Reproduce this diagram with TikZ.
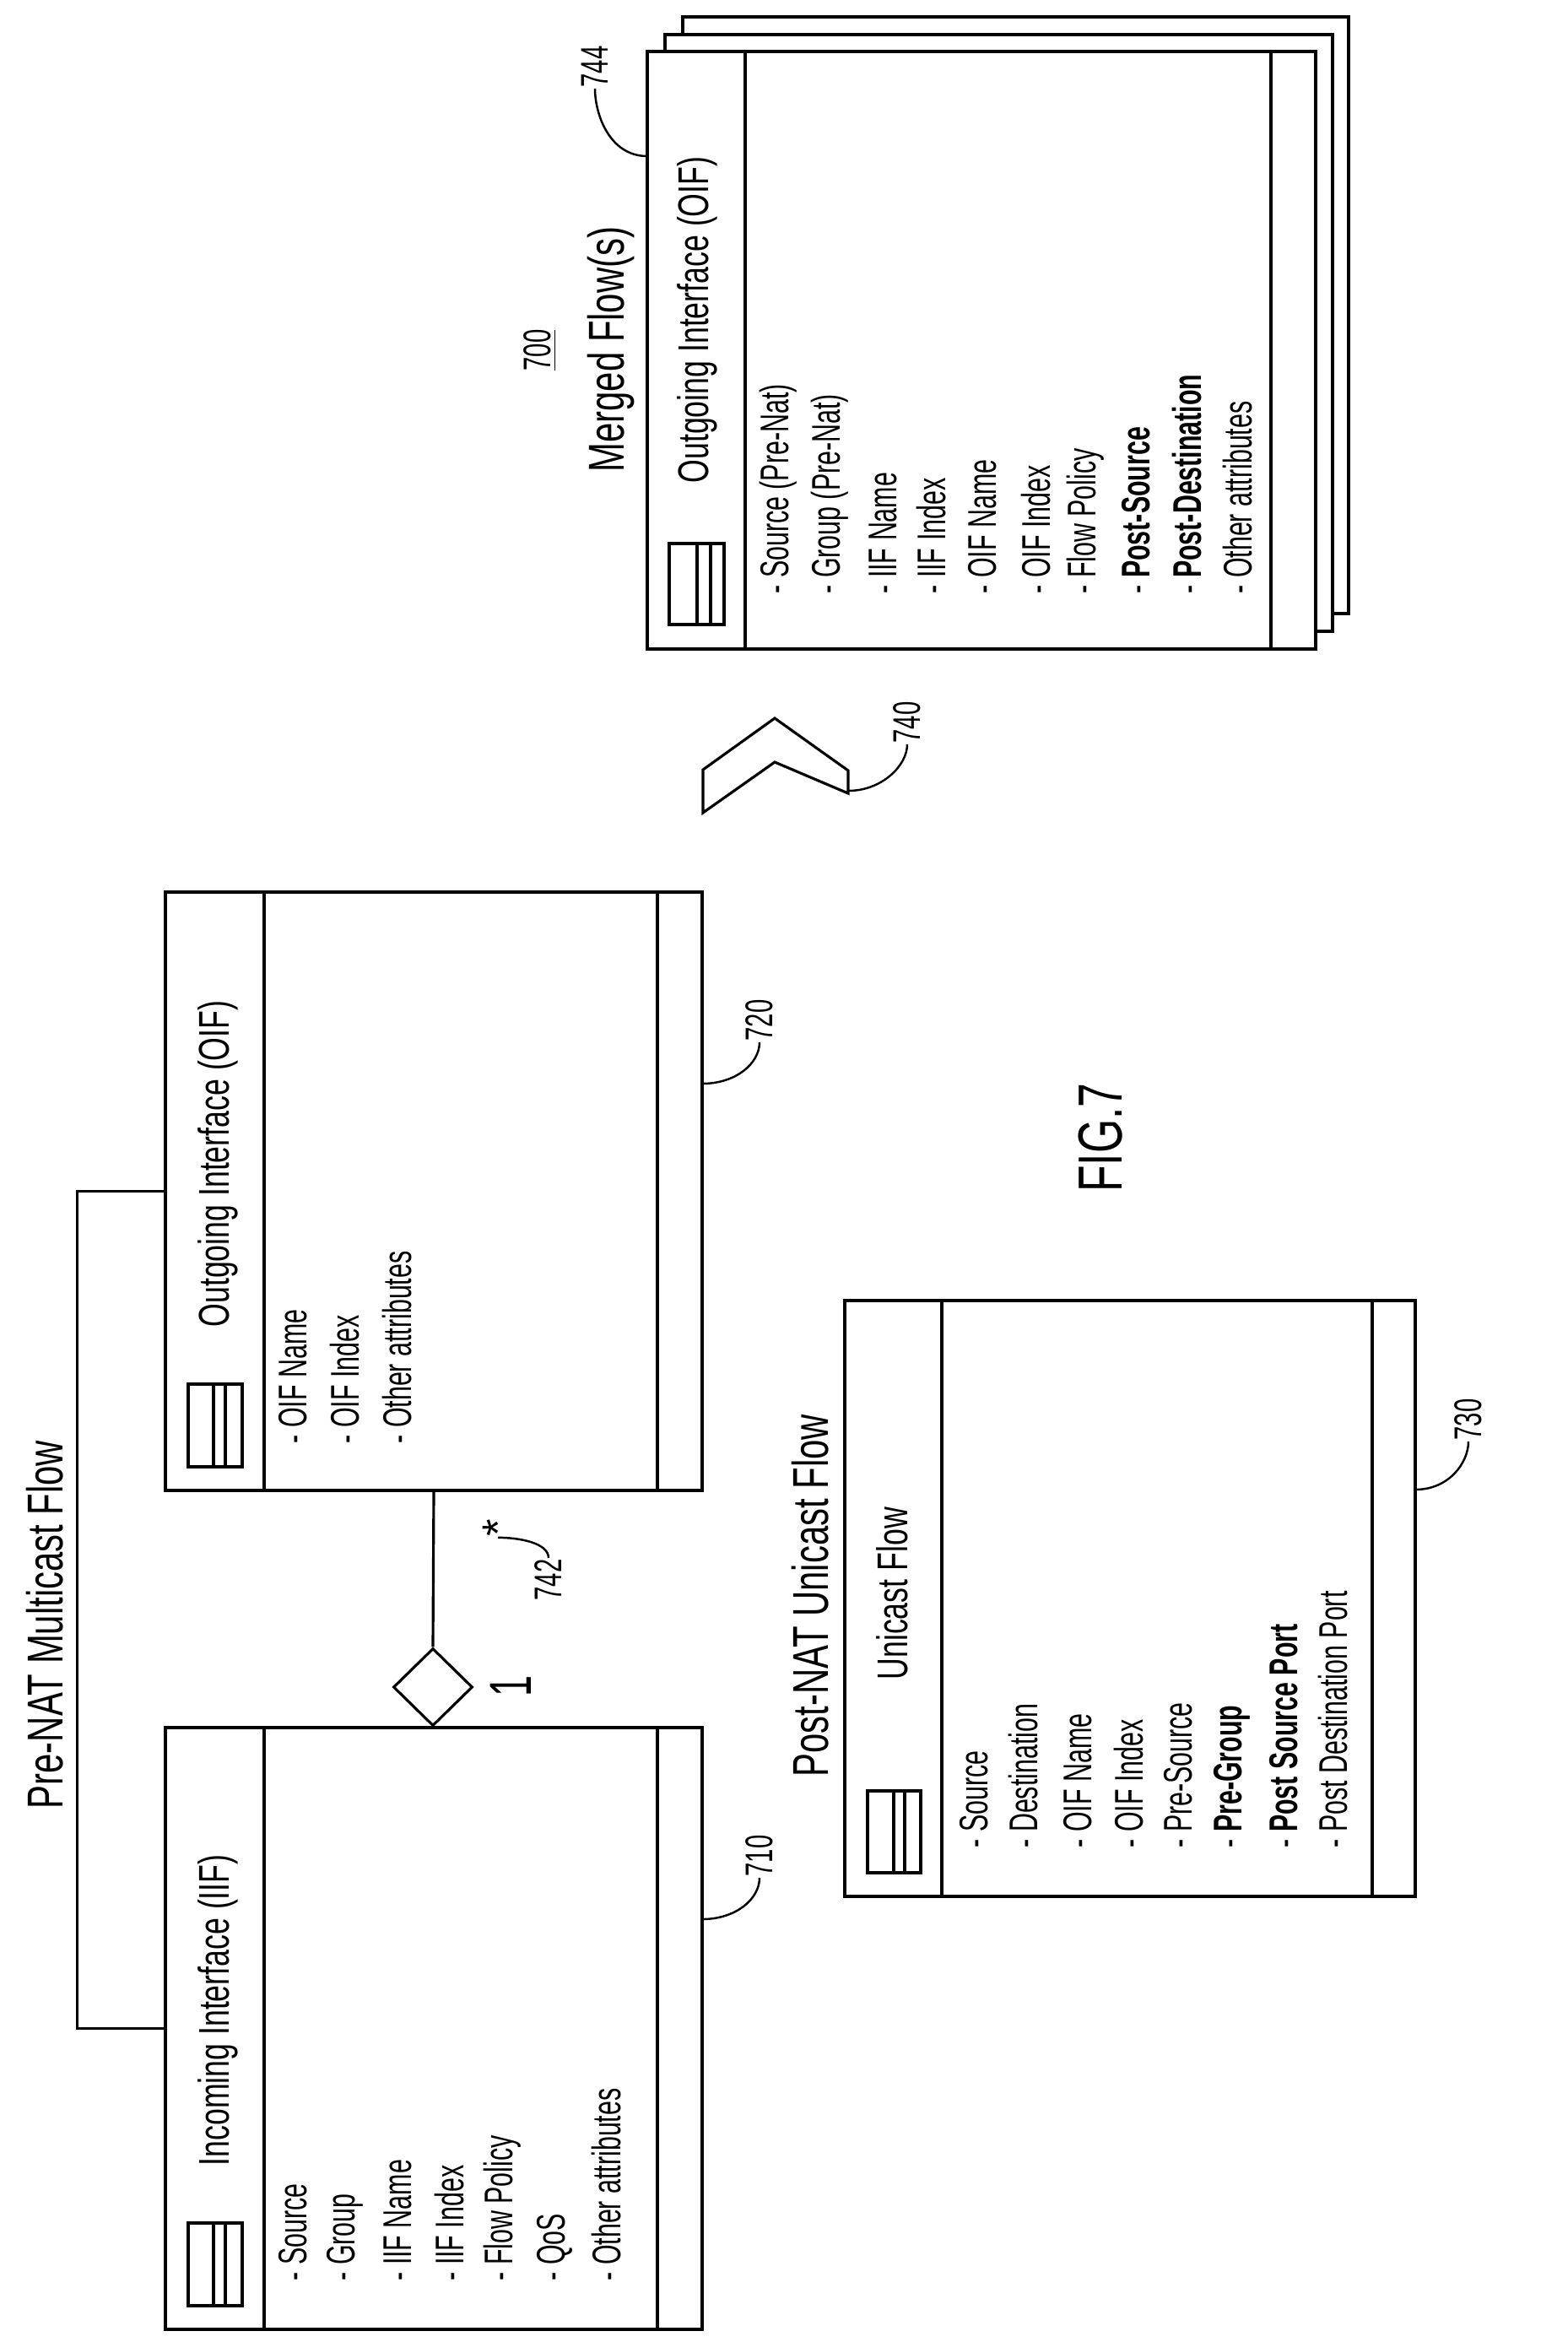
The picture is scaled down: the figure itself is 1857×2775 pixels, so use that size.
\documentclass[tikz,border=0pt]{standalone}
\usepackage{fontspec}
\setmainfont{Liberation Sans}
\usetikzlibrary{fit,shapes.geometric}
\newcommand\nr[1]{\scalebox{0.64}[1]{#1}}
\newcommand\nt[1]{\scalebox{0.70}[1]{#1}}
\begin{document}
\begin{tikzpicture}[x=0.01cm,y=-0.01cm,line width=0.9pt,
  box/.style={draw,inner sep=0pt,fill=white},
  item/.style={rotate=90,anchor=west,inner sep=0pt,font=\fontsize{13.5}{15}\selectfont},
  ttl/.style={rotate=90,anchor=west,inner sep=0pt,font=\fontsize{14.5}{16}\selectfont},
  grp/.style={rotate=90,inner sep=0pt,font=\fontsize{17}{19}\selectfont},
  lbl/.style={rotate=90,anchor=west,inner sep=0pt,font=\fontsize{13}{15}\selectfont}]
\useasboundingbox (0,0) rectangle (1857,2775);

% ---------- Box 720 ----------
\node[box,fit={(196,1057)(832,1766)}] (b720) {};
\draw (313,1057) -- (313,1766) (779,1057) -- (779,1766);
\draw (223,1640) rectangle (287,1738) (253,1640) -- (253,1738) (267,1640) -- (267,1738);
\node[ttl] (t720) at (258,1574) {\nt{Outgoing Interface (OIF)}};
\node[item] (i720a) at (347,1712) {\nr{- OIF Name}};
\node[item] (i720b) at (409,1712) {\nr{- OIF Index}};
\node[item] (i720c) at (471,1712) {\nr{- Other attributes}};

% ---------- Box 710 ----------
\node[box,fit={(196,2047)(832,2760)}] (b710) {};
\draw (313,2047) -- (313,2760) (779,2047) -- (779,2760);
\draw (223,2634) rectangle (287,2732) (253,2634) -- (253,2732) (267,2634) -- (267,2732);
\node[ttl] (t710) at (258,2568) {\nt{Incoming Interface (IIF)}};
\node[item] at (347,2704) {\nr{- Source}};
\node[item] at (409,2704) {\nr{- Group}};
\node[item] at (471,2704) {\nr{- IIF Name}};
\node[item] at (533,2704) {\nr{- IIF Index}};
\node[item] at (595,2704) {\nr{- Flow Policy}};
\node[item] at (657,2704) {\nr{- QoS}};
\node[item] at (719,2704) {\nr{- Other attributes}};

% ---------- Box 730 ----------
\node[box,fit={(1001,1541)(1677,2247)}] (b730) {};
\draw (1116,1541) -- (1116,2247) (1626,1541) -- (1626,2247);
\draw (1028,2122) rectangle (1091,2219) (1059,2122) -- (1059,2219) (1072,2122) -- (1072,2219);
\node[ttl] (t730) at (1057,1992) {\nt{Unicast Flow}};
\node[item] at (1154,2191) {\nr{- Source}};
\node[item] at (1213,2191) {\nr{- Destination}};
\node[item] at (1277,2191) {\nr{- OIF Name}};
\node[item] at (1338,2191) {\nr{- OIF Index}};
\node[item] at (1396,2191) {\nr{- Pre-Source}};
\node[item] at (1460,2191) {\nr{- \textbf{Pre-Group}}};
\node[item] at (1521,2191) {\nr{- \textbf{Post Source Port}}};
\node[item] at (1580,2191) {\nr{- Post Destination Port}};

% ---------- Box 744 (stack) ----------
\node[box,fit={(809,20)(1598,727)}] (b744c) {};
\node[box,fit={(788,41)(1579,748)}] (b744b) {};
\node[box,fit={(767,61)(1559,769)}] (b744) {};
\draw (883,61) -- (883,769) (1506,61) -- (1506,769);
\draw (793,644) rectangle (858,740) (826,644) -- (826,740) (842,644) -- (842,740);
\node[ttl] (t744) at (826,574) {\nt{Outgoing Interface (OIF)}};
\node[item] at (922,705) {\nr{- Source (Pre-Nat)}};
\node[item] at (983,705) {\nr{- Group (Pre-Nat)}};
\node[item] at (1046,705) {\nr{- IIF Name}};
\node[item] at (1104,705) {\nr{- IIF Index}};
\node[item] at (1164,705) {\nr{- OIF Name}};
\node[item] at (1228,705) {\nr{- OIF Index}};
\node[item] at (1286,705) {\nr{- Flow Policy}};
\node[item] at (1346,705) {\nr{- \textbf{Post-Source}}};
\node[item] at (1407,705) {\nr{- \textbf{Post-Destination}}};
\node[item] at (1467,705) {\nr{- Other attributes}};

% ---------- group labels ----------
\node[grp] (gpre) at (53,1925) {\nt{Pre-NAT Multicast Flow}};
\node[grp,anchor=west] (gpost) at (960,2107) {\nt{Post-NAT Unicast Flow}};
\node[grp,anchor=west] (gmerge) at (724,561) {\nt{Merged Flow(s)}};
\node[lbl,anchor=center] (n700) at (640,415) {\nr{\underline{700}}};
\node[rotate=90,inner sep=0pt,font=\fontsize{21}{23}\selectfont] (fig) at (1304,1348) {\nt{FIG.7}};

% ---------- connectors ----------
\draw (b710.west) -- ++(-103,0) |- (b720.west);
\node[diamond,draw,fill=white,inner sep=0pt,minimum width=0.94cm,minimum height=0.92cm] (dia) at (513,1999) {};
\draw (dia.north) -- (b720.south);
\node[rotate=90,inner sep=0pt,font=\fontsize{20}{22}\selectfont] (one) at (605,1998) {\nr{1}};
\node[rotate=90,inner sep=0pt,font=\fontsize{15}{17}\selectfont] (star) at (590,1810) {*};
\node[lbl] (l742) at (650,1898) {\nr{742}};
\draw[line width=0.7pt] (l742.east) .. controls +(0,-18) and +(25,0) .. (star.west);

% chevron 740
\draw (833,912) -- (918,851) -- (1005,913) -- (1005,940) -- (918,903) -- (833,963) -- cycle;
\coordinate (c740) at (1005,937);
\node[lbl] (l740) at (1075,882) {\nr{740}};
\draw[line width=0.7pt] (c740) .. controls +(40,0) and +(0,25) .. (l740.west);

% reference leaders
\coordinate (c720) at (832,1284);
\node[lbl] (l720) at (900,1235) {\nr{720}};
\draw[line width=0.7pt] (c720) .. controls +(40,0) and +(0,25) .. (l720.west);
\coordinate (c710) at (832,2274);
\node[lbl] (l710) at (900,2225) {\nr{710}};
\draw[line width=0.7pt] (c710) .. controls +(40,0) and +(0,25) .. (l710.west);
\coordinate (c730) at (1677,1765);
\node[lbl] (l730) at (1740,1708) {\nr{730}};
\draw[line width=0.7pt] (c730) .. controls +(40,0) and +(0,25) .. (l730.west);
\coordinate (c744) at (767,185);
\node[lbl] (l744) at (705,105) {\nr{744}};
\draw[line width=0.7pt] (c744) .. controls +(-45,0) and +(0,30) .. (l744.west);
\end{tikzpicture}
\end{document}
